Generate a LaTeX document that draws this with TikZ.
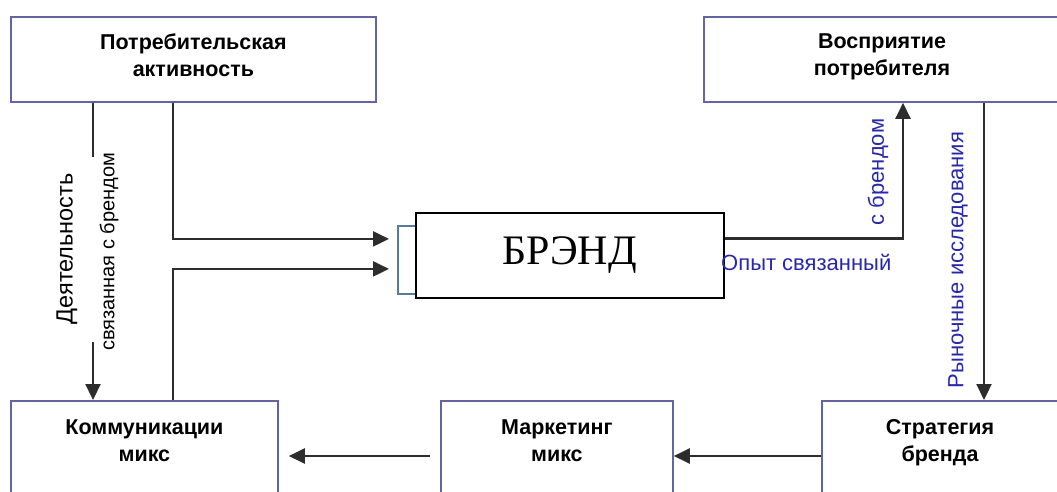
\documentclass[tikz,border=0pt]{standalone}
\usepackage{fontspec}
\setmainfont{Liberation Serif}
\setsansfont{Liberation Sans}
\usepackage{tikz}
\usetikzlibrary{arrows.meta, positioning, calc}

\definecolor{boxline}{RGB}{100,100,160}
\definecolor{backline}{RGB}{90,120,160}
\definecolor{labelblue}{RGB}{40,40,170}
\definecolor{connline}{RGB}{45,45,45}

\begin{document}
\begin{tikzpicture}[
    x=1pt, y=-1pt,
    box/.style={draw=boxline, line width=1.8pt, fill=white, anchor=north west, inner sep=0pt},
    boxtext/.style={font=\sffamily\bfseries\fontsize{21.5}{27}\selectfont, align=center, inner sep=0pt},
    conn/.style={draw=connline, line width=2.2pt},
    arrow/.style={conn, -{Triangle[length=16pt, width=15pt]}},
    sidelabel/.style={font=\sffamily\fontsize{22}{24}\selectfont, inner sep=0pt}
]
  \clip (0,0) rectangle (1057,491);
  \fill[white] (0,0) rectangle (1057,491);

  % Top row
  \node[box, minimum width=365pt, minimum height=85pt] (activity) at (10,16) {};
  \node[boxtext, below=18pt of activity.north] (activitytxt) {Потребительская\\активность};
  \node[box, minimum width=420pt, minimum height=85pt] (perception) at (703,16) {};
  \node[boxtext, below=18pt of perception.north west, xshift=179pt] (perceptiontxt) {Восприятие\\потребителя};

  % Brand in the middle (with the frame behind it)
  \node[box, draw=backline, minimum width=300pt, minimum height=68pt] (back) at (397,225) {};
  \node[box, draw=black, minimum width=308pt, minimum height=85pt, font=\rmfamily\fontsize{42}{42}\selectfont] (brand) at (415,212) {БРЭНД};

  % Bottom row
  \node[box, minimum width=267pt, minimum height=120pt] (comm) at (10,400) {};
  \node[boxtext, below=19pt of comm.north] (commtxt) {Коммуникации\\микс};
  \node[box, minimum width=232pt, minimum height=120pt] (mix) at (440,400) {};
  \node[boxtext, below=19pt of mix.north] (mixtxt) {Маркетинг\\микс};
  \node[box, minimum width=300pt, minimum height=120pt] (strategy) at (821,400) {};
  \node[boxtext, below=19pt of strategy.north west, xshift=119pt] (strategytxt) {Стратегия\\бренда};

  % Arrows into the brand
  \draw[arrow] ([xshift=163pt]activity.south west) |- ([xshift=-8pt, yshift=21pt]back.west);
  \draw[arrow] ([xshift=163pt]comm.north west) |- ([xshift=-8pt, yshift=-9pt]back.west);

  % Left arrow, broken for its labels
  \draw[conn] ([xshift=83pt]activity.south west) -- ++(0,54);
  \draw[arrow] ([xshift=83pt, yshift=58pt]comm.north west) -- ([xshift=83pt]comm.north west);
  \node[sidelabel, rotate=90, font=\sffamily\fontsize{23.5}{24}\selectfont] (deed) at (67,249) {Деятельность};
  \node[sidelabel, rotate=90, font=\sffamily\fontsize{20}{22}\selectfont] (linked) at (109,252) {связанная с брендом};

  % Right side
  \draw[arrow] ([yshift=17pt]brand.east) -| ([xshift=200pt]perception.south west);
  \node[sidelabel, text=labelblue, anchor=west] (experience) at (721,262) {Опыт связанный};
  \node[sidelabel, text=labelblue, rotate=90] (withbrand) at (878,172) {с брендом};
  \draw[arrow] ([xshift=281pt]perception.south west) -- ([xshift=281pt]perception.south west |- strategy.north);
  \node[sidelabel, text=labelblue, rotate=90] (research) at (958,260) {Рыночные исследования};

  % Bottom arrows
  \draw[arrow] ([yshift=-56pt]strategy.north west) -- ([yshift=-56pt]mix.north east);
  \draw[arrow] ([xshift=-10pt, yshift=-56pt]mix.north west) -- ([xshift=10pt, yshift=-56pt]comm.north east);

\end{tikzpicture}
\end{document}
